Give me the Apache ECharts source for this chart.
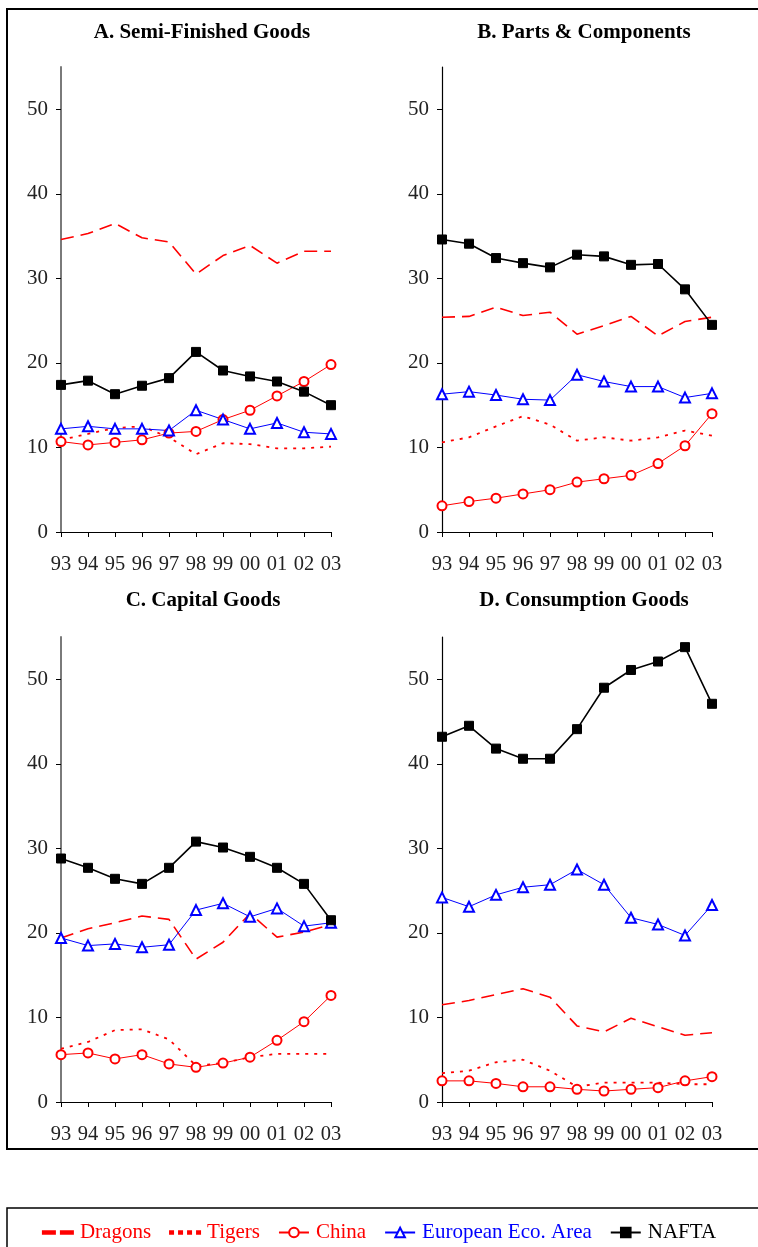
<!DOCTYPE html>
<html><head><meta charset="utf-8">
<script src="https://cdn.jsdelivr.net/npm/echarts@6/dist/echarts.min.js"></script>
<style>html,body{margin:0;padding:0;background:#fff}#c{width:758px;height:1247px}</style>
</head><body><div id="c"></div>
<script>
const years = ['93','94','95','96','97','98','99','00','01','02','03'];
const yTicks = [0,10,20,30,40,50];
const panelTitles = ['A. Semi-Finished Goods','B. Parts & Components','C. Capital Goods','D. Consumption Goods'];
const seriesNames = ['Dragons','Tigers','China','European Eco. Area','NAFTA'];

// Panel A
const dragonsA = [34.6,35.3,36.5,34.8,34.3,30.5,32.7,33.9,31.8,33.2,33.2];
const tigersA  = [10.9,11.6,12.3,12.5,11.2,9.2,10.5,10.4,9.9,9.9,10.1];
const chinaA   = [10.7,10.3,10.6,10.9,11.7,11.9,13.3,14.4,16.1,17.8,19.8];
const eeaA     = [12.2,12.5,12.2,12.2,12.0,14.4,13.3,12.2,12.9,11.8,11.6];
const naftaA   = [17.4,17.9,16.3,17.3,18.2,21.3,19.1,18.4,17.8,16.6,15.0];
// Panel B
const dragonsB = [25.4,25.5,26.6,25.6,26.0,23.4,24.4,25.5,23.2,24.9,25.4];
const tigersB  = [10.6,11.2,12.5,13.7,12.7,10.8,11.2,10.8,11.2,12.0,11.4];
const chinaB   = [3.1,3.6,4.0,4.5,5.0,5.9,6.3,6.7,8.1,10.2,14.0];
const eeaB     = [16.3,16.6,16.2,15.7,15.6,18.6,17.8,17.2,17.2,15.9,16.4];
const naftaB   = [34.6,34.1,32.4,31.8,31.3,32.8,32.6,31.6,31.7,28.7,24.5];
// Panel C
const dragonsC = [19.4,20.5,21.2,22.0,21.6,16.9,18.9,22.3,19.5,20.1,21.0];
const tigersC  = [6.3,7.1,8.5,8.6,7.4,4.3,4.6,5.3,5.7,5.7,5.7];
const chinaC   = [5.6,5.8,5.1,5.6,4.5,4.1,4.6,5.3,7.3,9.5,12.6];
const eeaC     = [19.4,18.5,18.7,18.3,18.6,22.7,23.5,21.9,22.9,20.8,21.2];
const naftaC   = [28.8,27.7,26.4,25.8,27.7,30.8,30.1,29.0,27.7,25.8,21.5];
// Panel D
const dragonsD = [11.5,12.0,12.7,13.4,12.4,9.0,8.3,9.9,8.9,7.9,8.2];
const tigersD  = [3.4,3.7,4.7,5.0,3.7,1.8,2.3,2.3,2.3,2.1,2.1];
const chinaD   = [2.5,2.5,2.2,1.8,1.8,1.5,1.3,1.5,1.7,2.5,3.0];
const eeaD     = [24.2,23.1,24.5,25.4,25.7,27.5,25.7,21.8,21.0,19.7,23.3];
const naftaD   = [43.2,44.5,41.8,40.6,40.6,44.1,49.0,51.1,52.1,53.8,47.1];

const panels = [
  [dragonsA,tigersA,chinaA,eeaA,naftaA],
  [dragonsB,tigersB,chinaB,eeaB,naftaB],
  [dragonsC,tigersC,chinaC,eeaC,naftaC],
  [dragonsD,tigersD,chinaD,eeaD,naftaD]
];

const FONT = 'Liberation Serif';
const styles = [
  {color:'#ff0000', line:{width:1.6,type:[13,7]}, symbol:'none', size:0},
  {color:'#ff0000', line:{width:1.8,type:[3,6]}, symbol:'none', size:0},
  {color:'#ff0000', line:{width:1}, symbol:'emptyCircle', size:9},
  {color:'#0000ff', line:{width:1}, symbol:'emptyTriangle', size:10},
  {color:'#000000', line:{width:1.6}, symbol:'rect', size:9}
];
const legendIcons = [
  'path://M0,0h12v2.4H0z M18,0h12v2.4H18z',
  'path://M0,0h3v2.4H0z M9,0h3v2.4H9z M18,0h3v2.4H18z M27,0h3v2.4H27z',
  'inherit','inherit','inherit'
];

const gridPos = [
  {left:61, right:427, top:67, bottom:715},
  {left:442, right:46, top:67, bottom:715},
  {left:61, right:427, top:637, bottom:145},
  {left:442, right:46, top:637, bottom:145}
];
const titlePos = [
  {x:197,y:17},{x:579,y:17},{x:198,y:585},{x:579,y:585}
];

const grid = [], xAxis = [], yAxis = [], series = [], title = [];
gridPos.forEach((g,i)=>{
  grid.push(Object.assign({containLabel:false}, g));
  const gray = (i%2===0);
  xAxis.push({type:'category', gridIndex:i, data:years, boundaryGap:false,
    axisLine:{lineStyle:{color:'#000',width:1}},
    axisTick:{show:true, alignWithLabel:true, length:5, lineStyle:{color:'#000'}},
    axisLabel:{fontFamily:FONT, fontSize:20.5, color:'#222', margin:22, interval:0},
    splitLine:{show:false}});
  yAxis.push({type:'value', gridIndex:i, min:0, max:55, interval:10,
    axisLine:{show:true, lineStyle:{color:gray?'#7a7a7a':'#000',width:gray?2:1.2}},
    axisTick:{show:true, length:5, lineStyle:{color:'#000'}},
    axisLabel:{fontFamily:FONT, fontSize:21, color:'#222', margin:13, showMaxLabel:false,
      formatter:v=> yTicks.includes(v) ? String(v) : ''},
    splitLine:{show:false}});
  title.push({text:panelTitles[i], left:titlePos[i].x, top:titlePos[i].y, textAlign:'center',
    textStyle:{fontFamily:FONT, fontSize:21, fontWeight:'bold', color:'#000'}});
  panels[i].forEach((vals,k)=>{
    const s = styles[k];
    series.push({name:seriesNames[k], type:'line', xAxisIndex:i, yAxisIndex:i, data:vals,
      symbol:s.symbol, symbolSize:s.size, showSymbol:s.symbol!=='none',
      lineStyle:{color:s.color, width:s.line.width, type:s.line.type||'solid'},
      itemStyle:{color:s.color, borderColor:s.color, borderWidth:1},
      z: k===4 ? 5 : 3, animation:false, silent:true});
  });
});

const legendColors = ['#ff0000','#ff0000','#ff0000','#0000ff','#000000'];
const chart = echarts.init(document.getElementById('c'), null, {renderer:'canvas'});
chart.setOption({
  backgroundColor:'#fff',
  animation:false,
  title,
  grid, xAxis, yAxis, series,
  legend:{left:'center', top:1217, itemWidth:30, itemHeight:12, itemGap:18,
    data: seriesNames.map((n,k)=>({name:n, icon:legendIcons[k], textStyle:{color:legendColors[k]}})),
    textStyle:{fontFamily:FONT, fontSize:21, padding:[0,0,0,2]}, selectedMode:false},
  graphic:[
    {type:'rect', shape:{x:7,y:9,width:760,height:1140}, style:{fill:'none', stroke:'#000', lineWidth:2}, silent:true},
    {type:'rect', shape:{x:7,y:1208,width:760,height:60}, style:{fill:'none', stroke:'#000', lineWidth:1.5}, silent:true}
  ]
});
</script></body></html>
